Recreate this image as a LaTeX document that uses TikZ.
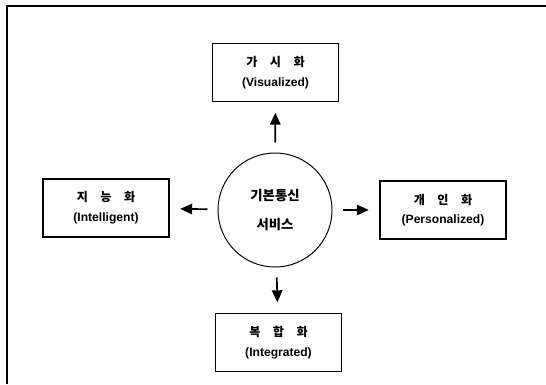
\documentclass[tikz,border=0pt]{standalone}
\usepackage{fontspec}
\setmainfont{Liberation Sans}
\newfontfamily\kofont[WordSpace=4.5]{Noto Sans CJK KR}
\usetikzlibrary{arrows.meta}

\begin{document}
\begin{tikzpicture}[
    x=0.025cm, y=-0.025cm,
    roundnode/.style={circle, draw=black, line width=0.7pt, minimum size=2.85cm, align=center, font=\kofont\fontsize{9.5}{21}\selectfont\bfseries},
    squarednode/.style={rectangle, draw=black, line width=1.1pt, minimum width=3.15cm, minimum height=1.45cm, align=center, font=\fontsize{8.6}{14}\selectfont\bfseries},
    arrowline/.style={line width=1.2pt, -{Triangle[length=3mm,width=2.6mm]}, shorten <=0.25cm, shorten >=0.26cm}
  ]
  \useasboundingbox (0,0) rectangle (546,384);

  %Frame
  \draw[line width=1pt] (7,384) -- (7,6) -- (546,6);

  %Nodes
  \node[roundnode] at (275,210) (svc) {기본통신\\서비스};
  \node[squarednode] at (275.5,72.5) (vis) {{\kofont 가 시 화}\\(Visualized)};
  \node[squarednode] at (106,208) (intel) {{\kofont 지 능 화}\\(Intelligent)};
  \node[squarednode] at (443,210) (pers) {{\kofont 개 인 화}\\(Personalized)};
  \node[squarednode] at (278.5,342.5) (integ) {{\kofont 복 합 화}\\(Integrated)};

  %Lines
  \draw[arrowline] (svc) -- (vis);
  \draw[arrowline] (svc) -- (intel);
  \draw[arrowline] (svc) -- (pers);
  \draw[arrowline] (svc) -- (integ);

\end{tikzpicture}
\end{document}
